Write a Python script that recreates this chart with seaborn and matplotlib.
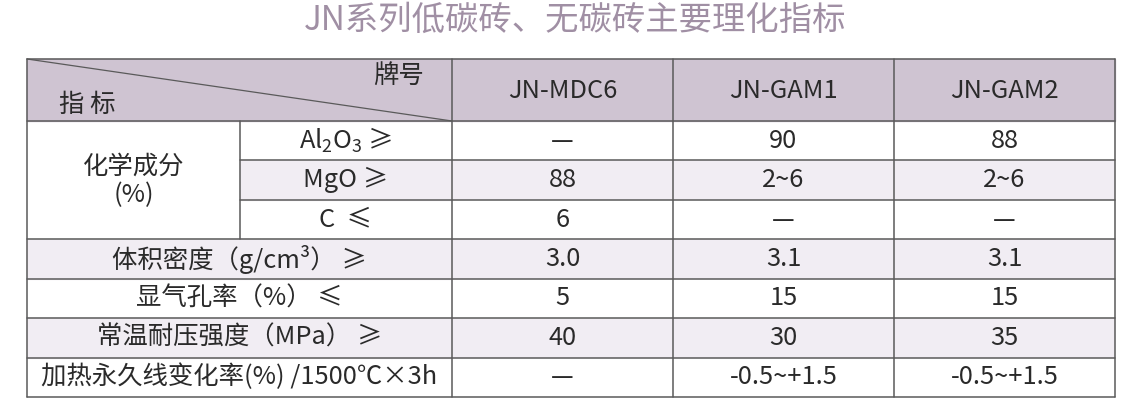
import matplotlib
matplotlib.use("Agg")
import matplotlib.pyplot as plt
from matplotlib.colors import ListedColormap
from matplotlib.patches import Rectangle
import seaborn as sns
import pandas as pd
import numpy as np

# table content
title = "JN系列低碳砖、无碳砖主要理化指标"
brands = ["JN-MDC6", "JN-GAM1", "JN-GAM2"]
chem_group = "化学成分\n(%)"
chem_items = ["Al$_\\mathregular{2}$O$_\\mathregular{3}$ ≥", "MgO ≥", "C  ≤"]
prop_items = ["体积密度（g/cm³） ≥", "显气孔率（%） ≤", "常温耐压强度（MPa） ≥",
              "加热永久线变化率(%) /1500℃×3h"]
mdc6 = ["—", "88", "6", "3.0", "5", "40", "—"]
gam1 = ["90", "2~6", "—", "3.1", "15", "30", "-0.5~+1.5"]
gam2 = ["88", "2~6", "—", "3.1", "15", "35", "-0.5~+1.5"]

sns.set_theme(style="white")
plt.rcParams['font.family'] = ['Noto Sans CJK SC', 'DejaVu Sans']
plt.rcParams['mathtext.fontset'] = 'custom'
plt.rcParams['mathtext.rm'] = 'Noto Sans CJK SC'

HEAD_BG = "#cfc4d2"
ALT_BG = "#f1edf3"
LINE = "#5a5a5a"
TXT = "#2a2a2a"
FS = 18.3

W, H = 1146, 409
x_edges = [27, 240, 452, 673, 894, 1115]
top, head_bot, bot = 59, 121, 397
y_edges = np.linspace(head_bot, bot, len(mdc6) + 1)

fig = plt.figure(figsize=(W / 100, H / 100), dpi=100)

# value cells as a heatmap
df = pd.DataFrame({b: v for b, v in zip(brands, [mdc6, gam1, gam2])})
shade = np.tile((np.arange(len(df)) % 2)[:, None], (1, len(brands)))
ax_val = fig.add_axes([x_edges[2] / W, 1 - bot / H,
                       (x_edges[5] - x_edges[2]) / W, (bot - head_bot) / H])
sns.heatmap(shade, ax=ax_val, cmap=ListedColormap(["white", ALT_BG]),
            cbar=False, annot=df.values, fmt="", vmin=0, vmax=1,
            annot_kws={"fontsize": FS, "color": TXT},
            xticklabels=False, yticklabels=False)
ax_val.set_axis_off()

# overlay for headers, labels and grid lines
ax = fig.add_axes([0, 0, 1, 1])
ax.set_xlim(0, W)
ax.set_ylim(H, 0)
ax.set_axis_off()
ax.patch.set_alpha(0)

ax.text(W / 2 + 2, 20, title, ha="center", va="center", fontsize=24,
        color="#a08fa4", fontweight="light")

# header
ax.add_patch(Rectangle((x_edges[0], top), x_edges[5] - x_edges[0], head_bot - top,
                       color=HEAD_BG, zorder=0))
for i, b in enumerate(brands):
    ax.text((x_edges[i + 2] + x_edges[i + 3]) / 2, (top + head_bot) / 2 + 1, b,
            ha="center", va="center", fontsize=FS, color=TXT)
ax.plot([x_edges[0], x_edges[2]], [top, head_bot], color=LINE, lw=0.9)
ax.text(424, 76, "牌号", ha="right", va="center", fontsize=FS, color=TXT)
ax.text(59, 105, "指 标", ha="left", va="center", fontsize=FS, color=TXT)

# chemistry rows
n_chem = len(chem_items)
ax.text((x_edges[0] + x_edges[1]) / 2, (y_edges[0] + y_edges[n_chem]) / 2 + 1, chem_group,
        ha="center", va="center", fontsize=FS, color=TXT, linespacing=1.1)
for i, item in enumerate(chem_items):
    if i % 2:
        ax.add_patch(Rectangle((x_edges[1], y_edges[i]), x_edges[2] - x_edges[1],
                               y_edges[i + 1] - y_edges[i], color=ALT_BG, zorder=0))
    ax.text((x_edges[1] + x_edges[2]) / 2, (y_edges[i] + y_edges[i + 1]) / 2, item,
            ha="center", va="center", fontsize=FS, color=TXT)

# property rows
for j, item in enumerate(prop_items):
    i = n_chem + j
    if i % 2:
        ax.add_patch(Rectangle((x_edges[0], y_edges[i]), x_edges[2] - x_edges[0],
                               y_edges[i + 1] - y_edges[i], color=ALT_BG, zorder=0))
    ax.text((x_edges[0] + x_edges[2]) / 2, (y_edges[i] + y_edges[i + 1]) / 2, item,
            ha="center", va="center", fontsize=FS, color=TXT)

# grid lines
lw = 1.1
for y in [top, head_bot] + list(y_edges[1:]):
    x0 = x_edges[1] if y in y_edges[1:n_chem] else x_edges[0]
    ax.plot([x0, x_edges[5]], [y, y], color=LINE, lw=lw)
for x in [x_edges[0]] + x_edges[2:]:
    ax.plot([x, x], [top, bot], color=LINE, lw=lw)
ax.plot([x_edges[1], x_edges[1]], [head_bot, y_edges[n_chem]], color=LINE, lw=lw)

fig.savefig("out.png", dpi=100)
